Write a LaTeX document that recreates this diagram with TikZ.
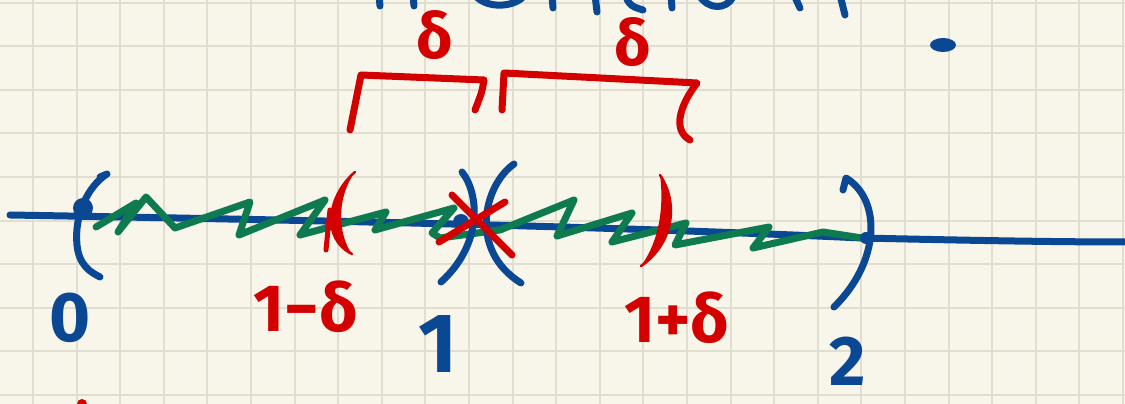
\documentclass[tikz,border=0pt]{standalone}
\usepackage{fontspec}
\setmainfont{Fira Sans}
\usetikzlibrary{calc}

\definecolor{paper}{HTML}{F8F5EA}
\definecolor{gridline}{HTML}{E1DED0}
\definecolor{blueink}{HTML}{0A4893}
\definecolor{redink}{HTML}{D40000}
\definecolor{greenink}{HTML}{0E7A50}

\begin{document}
\begin{tikzpicture}[
  x=0.02cm, y=-0.02cm,
  ink/.style = {line width=0.14cm, line cap=round, line join=round},
  blueline/.style = {ink, draw=blueink},
  redline/.style = {ink, draw=redink},
  greenline/.style = {ink, draw=greenink},
  bluelabel/.style = {text=blueink, inner sep=0pt},
  redlabel/.style = {text=redink, inner sep=0pt}
]
\useasboundingbox (0,0) rectangle (1125,404);
\clip (0,0) rectangle (1125,404);
\fill[paper] (0,0) rectangle (1125,404);

% ======================================================
% Squared paper
% ======================================================
\foreach \k in {-1,...,25}
  \draw[gridline, line width=0.04cm] ({33+43.6*\k},0) -- ({33+43.6*\k},404);
\foreach \k in {0,...,9}
  \draw[gridline, line width=0.04cm] (0,{2.7+43.6*\k}) -- (1125,{2.7+43.6*\k});

% cut-off writing at the top edge
\draw[blueline] (379,-5) -- (380,6);
\draw[blueline] (413,-5) -- (414,6);
\draw[blueline] (475,-5) .. controls (485,8) and (510,8) .. (522,-2);
\draw[blueline] (552,-5) -- (553,8);
\draw[blueline] (595,-5) -- (597,12);
\draw[blueline] (626,-3) .. controls (630,8) and (638,8) .. (643,10);
\draw[blueline] (671,-5) -- (672,8);
\draw[blueline] (699,-5) .. controls (708,10) and (726,10) .. (733,-3);
\draw[blueline] (794,-5) -- (800,8);
\draw[blueline] (840,-5) -- (845,15);
\fill[blueink] (943,45) ellipse [x radius=13, y radius=7];
\fill[redink] (82,404) circle (5);

% ======================================================
% Number line and the interval (0,2)
% ======================================================
\draw[blueline] (10,215) .. controls (300,220) and (600,226) .. (862,238)
  .. controls (950,240) and (1050,242) .. (1125,242);

% green scribble for the open interval
\draw[greenline] (96,227) -- (136,203) -- (118,232) -- (146,197) -- (175,228)
  -- (250,202) -- (239,235) -- (325,200) -- (300,235) -- (386,212)
  -- (375,230) -- (454,208) -- (432,233) -- (440,238) -- (500,230)
  -- (574,200) -- (557,236) -- (632,213) -- (612,242) -- (686,223)
  -- (675,245) -- (769,227) -- (753,248) -- (823,232) -- (862,238);

% point 0 with its bracket
\fill[blueink] (83,208) circle (10);
\draw[blueline] (100,177) -- (107,174)
  .. controls (88,186) and (74,215) .. (77,245)
  .. controls (79,265) and (90,272) .. (100,277);

% point 1, taken out
\fill[blueink] (461,222) circle (8);
\draw[blueline] (462,172) .. controls (480,195) and (482,245) .. (441,282);
\draw[blueline] (514,164) .. controls (484,185) and (468,250) .. (521,283);

% point 2 with its bracket
\fill[blueink] (866,238) circle (6);
\draw[blueline] (843,190) -- (846,178)
  .. controls (882,200) and (880,262) .. (834,307);

% ======================================================
% delta neighbourhood of 1
% ======================================================
\fill[redink] (355,172) .. controls (328,195) and (320,238) .. (352,254)
  .. controls (338,235) and (336,198) .. (355,172);
\draw[redline, line width=0.05cm] (355,172) .. controls (328,195) and (320,238) .. (352,254);
\draw[redline, line width=0.1cm] (330,210) -- (326,250);

\fill[redink] (660,175) .. controls (680,205) and (672,245) .. (641,266)
  .. controls (660,240) and (664,205) .. (660,175);
\draw[redline, line width=0.05cm] (660,175) .. controls (680,205) and (672,245) .. (641,266);

\draw[redline] (452,195) -- (512,255);
\draw[redline] (505,202) -- (439,242);

% brackets on top
\draw[redline] (350,130) -- (361,75) -- (484,80) .. controls (482,92) .. (475,110);
\draw[redline] (502,110) -- (504,73) -- (697,83)
  .. controls (680,105) and (672,130) .. (690,140);

% ======================================================
% Labels
% ======================================================
\node[bluelabel, font=\bfseries\fontsize{40}{40}\selectfont] (zerolbl) at (70,318) {0};
\node[redlabel, font=\bfseries\fontsize{38}{38}\selectfont] (lowlbl) at (306,307) {1−δ};
\node[bluelabel, font=\bfseries\fontsize{48}{48}\selectfont] (onelbl) at (438,344) {1};
\node[redlabel, font=\bfseries\fontsize{38}{38}\selectfont] (highlbl) at (677,318) {1+δ};
\node[bluelabel, font=\bfseries\fontsize{40}{40}\selectfont] (twolbl) at (848,361) {2};
\node[redlabel, font=\bfseries\fontsize{36}{36}\selectfont] (deltaleft) at (435,35) {δ};
\node[redlabel, font=\bfseries\fontsize{36}{36}\selectfont] (deltaright) at (633,42) {δ};
\end{tikzpicture}
\end{document}
